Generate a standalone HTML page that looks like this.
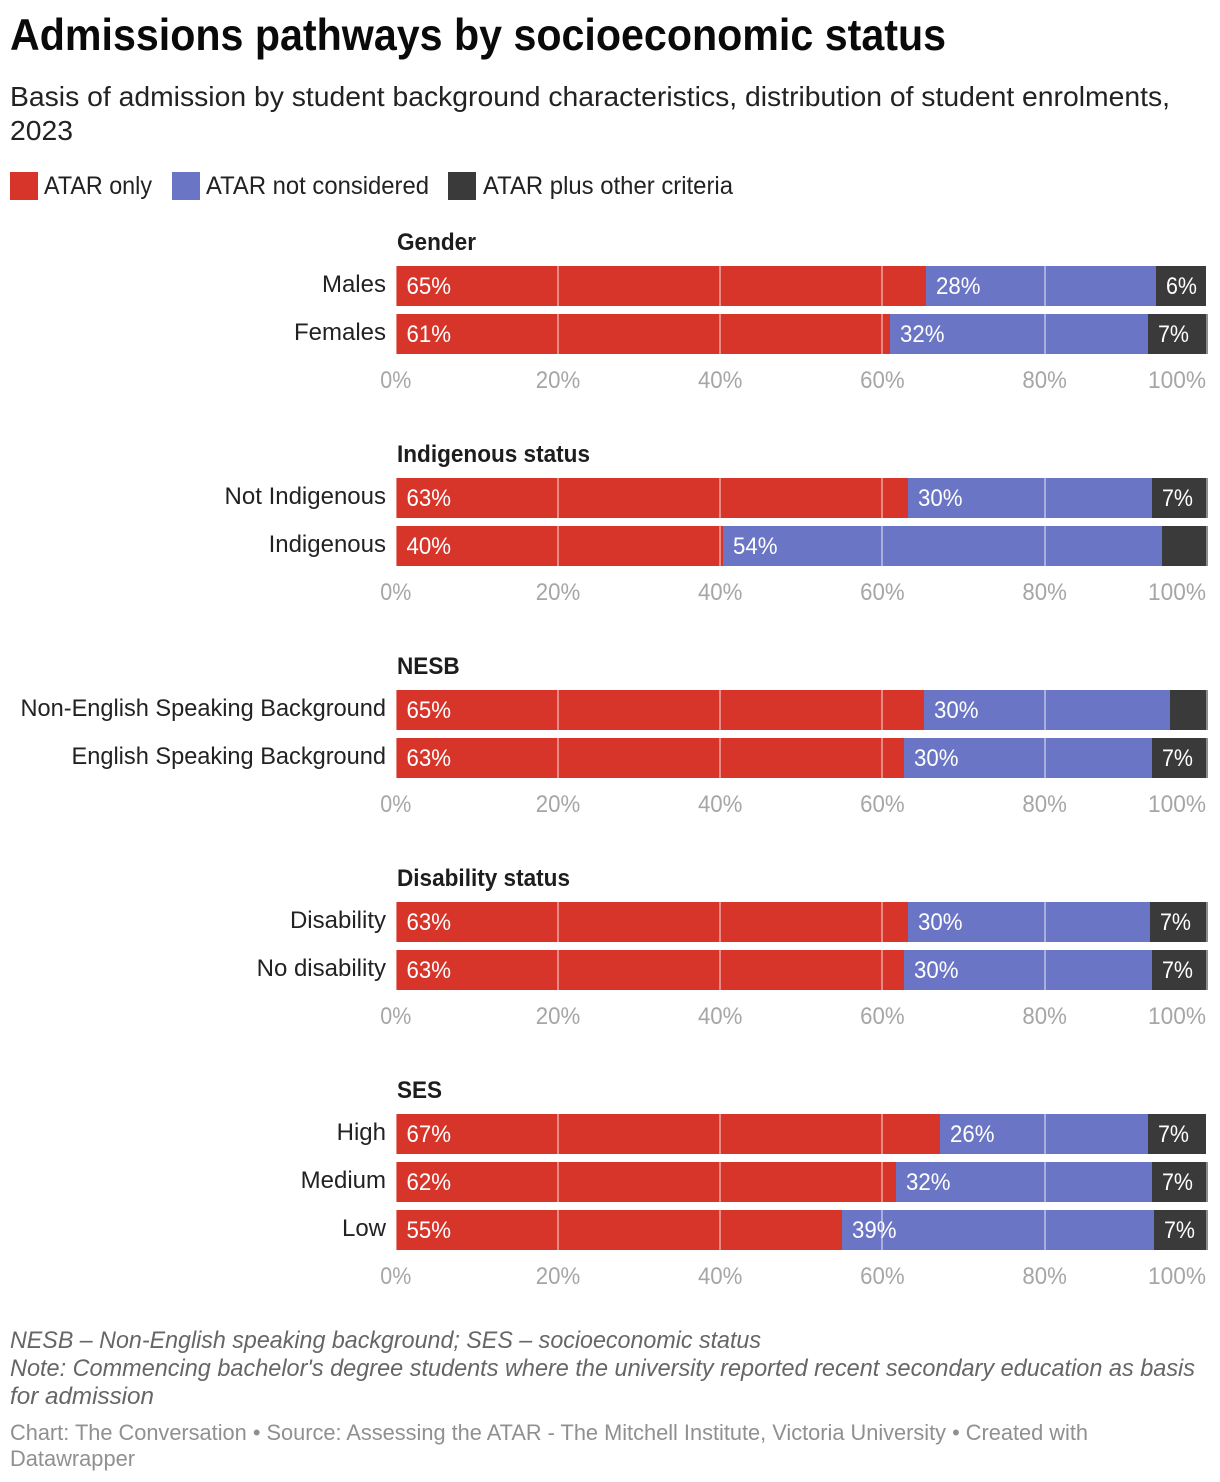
<!DOCTYPE html>
<html lang="en">
<head>
<meta charset="utf-8">
<title>Admissions pathways by socioeconomic status</title>
<style>
  html, body { margin: 0; padding: 0; background: #fff; }
  body { width: 1220px; height: 1482px; overflow: hidden; }
  svg { display: block; font-family: "Liberation Sans", Arial, sans-serif; }
</style>
</head>
<body>
<svg id="chart" xmlns="http://www.w3.org/2000/svg" width="1220" height="1482" viewBox="0 0 1220 1482">
  <text x="10" y="50" font-size="44.5" font-weight="700" fill="#0a0a0a" textLength="936" lengthAdjust="spacingAndGlyphs">Admissions pathways by socioeconomic status</text>
  <text x="10" y="106" font-size="28" fill="#222" textLength="1160" lengthAdjust="spacingAndGlyphs">Basis of admission by student background characteristics, distribution of student enrolments,</text>
  <text x="10" y="140" font-size="28" fill="#222" textLength="63" lengthAdjust="spacingAndGlyphs">2023</text>

  <g>
    <rect x="10" y="172" width="28" height="28" fill="#d8352a"/>
    <text x="44" y="194" font-size="25" fill="#222" textLength="108" lengthAdjust="spacingAndGlyphs">ATAR only</text>
    <rect x="172" y="172" width="28" height="28" fill="#6b75c5"/>
    <text x="206" y="194" font-size="25" fill="#222" textLength="223" lengthAdjust="spacingAndGlyphs">ATAR not considered</text>
    <rect x="448" y="172" width="28" height="28" fill="#3a3a3a"/>
    <text x="483" y="194" font-size="25" fill="#222" textLength="250" lengthAdjust="spacingAndGlyphs">ATAR plus other criteria</text>
  </g>

  <g id="panels"></g>

  <g font-style="italic" font-size="24" fill="#666">
    <text x="10" y="1348" textLength="751" lengthAdjust="spacingAndGlyphs">NESB – Non-English speaking background; SES – socioeconomic status</text>
    <text x="10" y="1376" textLength="1185" lengthAdjust="spacingAndGlyphs">Note: Commencing bachelor's degree students where the university reported recent secondary education as basis</text>
    <text x="10" y="1404" textLength="144" lengthAdjust="spacingAndGlyphs">for admission</text>
  </g>
  <g font-size="22" fill="#909090">
    <text x="10" y="1440" textLength="1078" lengthAdjust="spacingAndGlyphs">Chart: The Conversation • Source: Assessing the ATAR - The Mitchell Institute, Victoria University • Created with</text>
    <text x="10" y="1466" textLength="125" lengthAdjust="spacingAndGlyphs">Datawrapper</text>
  </g>
</svg>
<script>
const groupTitles = ["Gender", "Indigenous status", "NESB", "Disability status", "SES"];
const groupSizes = [2, 2, 2, 2, 3];
const categories = ["Males", "Females", "Not Indigenous", "Indigenous", "Non-English Speaking Background", "English Speaking Background", "Disability", "No disability", "High", "Medium", "Low"];
const atarOnly = [65.36, 60.92, 63.13, 40.34, 65.12, 62.7, 63.13, 62.7, 67.09, 61.66, 55.0];
const atarNotConsidered = [28.35, 31.8, 30.08, 54.12, 30.32, 30.49, 29.84, 30.49, 25.64, 31.55, 38.5];
const atarPlusOther = [6.2, 7.4, 6.9, 5.64, 4.66, 6.91, 7.13, 6.91, 7.18, 6.9, 6.6];
const tickValues = [0, 20, 40, 60, 80, 100];

const SVG_NS = "http://www.w3.org/2000/svg";
const panels = document.getElementById("panels");

function xScale(v) { return 395.8 + 8.11 * v; }

function labelWidth(str, size) {
  let w = 0;
  for (const ch of str) w += ch === "%" ? 0.732 : 0.5615;
  return w * size;
}

function makeText(parent, str, x, y, size, fill) {
  const t = document.createElementNS(SVG_NS, "text");
  t.textContent = str;
  t.setAttribute("x", x);
  t.setAttribute("y", y);
  t.setAttribute("font-size", size);
  t.setAttribute("fill", fill);
  parent.appendChild(t);
  return t;
}

function makeRect(parent, x, y, w, h, fill) {
  const r = document.createElementNS(SVG_NS, "rect");
  r.setAttribute("x", x);
  r.setAttribute("y", y);
  r.setAttribute("width", w);
  r.setAttribute("height", h);
  r.setAttribute("fill", fill);
  r.setAttribute("shape-rendering", "crispEdges");
  parent.appendChild(r);
  return r;
}

function fitText(t, size) {
  t.setAttribute("textLength", labelWidth(t.textContent, size).toFixed(1));
  t.setAttribute("lengthAdjust", "spacingAndGlyphs");
}

function squeezeText(t, factor) {
  t.setAttribute("textLength", (t.getComputedTextLength() * factor).toFixed(1));
  t.setAttribute("lengthAdjust", "spacingAndGlyphs");
}

function drawSegment(parent, start, value, y, fill, minLabel, inset) {
  const x0 = Math.round(xScale(start));
  const x1 = Math.round(xScale(start + value));
  const bar = makeRect(parent, x0, y, x1 - x0, 40, fill);
  
  
  if (value < minLabel) return;
  return { x: x0 + inset, y: y + 28, str: Math.round(value) + "%" };
}

let rowIndex = 0;
groupTitles.forEach(function (title, g) {
  const top = 266 + 212 * g;
  const group = document.createElementNS(SVG_NS, "g");
  
  
  panels.appendChild(group);

  const head = makeText(group, title, 397, top - 16, 24, "#1d1d1d");
  head.setAttribute("font-weight", "700");
  squeezeText(head, 0.94);
  
  

  const n = groupSizes[g];
  const pending = [];
  for (let i = 0; i < n; i++) {
    const idx = rowIndex + i;
    const y = top + 48 * i;
    const cat = makeText(group, categories[idx], 386, y + 26, 24, "#222");
    cat.setAttribute("text-anchor", "end");
    if (cat.getComputedTextLength() > 300) squeezeText(cat, 0.982);
    
    
    const a = drawSegment(group, 0, atarOnly[idx], y, "#d8352a", 6, 10.5);
    const b = drawSegment(group, atarOnly[idx], atarNotConsidered[idx], y, "#6b75c5", 6, 10);
    const c = drawSegment(group, atarOnly[idx] + atarNotConsidered[idx], atarPlusOther[idx], y, "#3a3a3a", 6, 10);
    [a, b, c].forEach(function (l) { if (l) pending.push(l); });
  }
  const height = 48 * n - 8;
  tickValues.forEach(function (tick) {
    const line = makeRect(group, Math.round(xScale(tick)) - 1, top, 2, height, "rgba(255,255,255,0.42)");
    
    
    const tickStr = tick + "%";
    const isLast = tick === tickValues[tickValues.length - 1];
    const label = makeText(group, tickStr, isLast ? 1206 : xScale(tick), top + height + 34, 24, "#a6a6a6");
    label.setAttribute("text-anchor", isLast ? "end" : "middle");
    fitText(label, 24);
    
    
  });
  pending.forEach(function (l) {
    const v = makeText(group, l.str, l.x, l.y, 24, "#fff");
    fitText(v, 24);
    
    
  });
  rowIndex += n;
});
</script>
</body>
</html>
